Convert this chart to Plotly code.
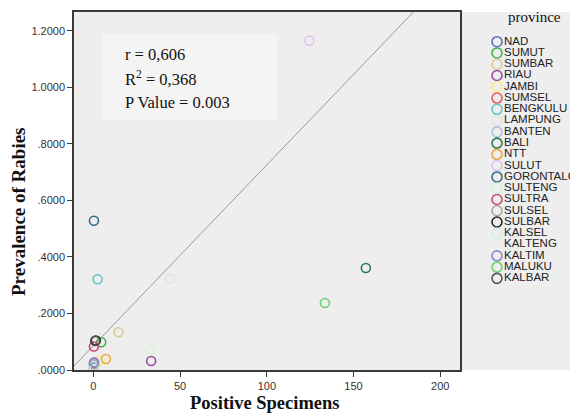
import plotly.graph_objects as go

# ---------------- data ----------------
provinces = ["NAD", "SUMUT", "SUMBAR", "RIAU", "JAMBI", "SUMSEL", "BENGKULU",
             "LAMPUNG", "BANTEN", "BALI", "NTT", "SULUT", "GORONTALO", "SULTENG",
             "SULTRA", "SULSEL", "SULBAR", "KALSEL", "KALTENG", "KALTIM",
             "MALUKU", "KALBAR"]
positive_specimens = [0.3, 4.5, 14.5, 33.3, 3.7, 0.3, 2.4,
                      44.3, 0.5, 157.1, 7.2, 124.5, 0.3, 32.2,
                      0.3, 0.2, 1.4, 0.5, None, 0.4,
                      133.5, 1.0]
prevalence = [0.006, 0.098, 0.134, 0.032, 0.034, 0.024, 0.321,
              0.322, 0.012, 0.361, 0.039, 1.165, 0.528, 0.071,
              0.083, 0.020, 0.104, 0.003, None, 0.027,
              0.237, 0.103]
colors = ["#5B6FC4", "#3CB54A", "#D9CB98", "#9B4A9F", "#F7EE8A", "#E8585A", "#5CC8C8",
          "#E4E4E4", "#A8C4DE", "#2E7B50", "#F0A640", "#E0C4F0", "#336B8A", "#D6F3D6",
          "#D0456E", "#A8A8A8", "#222222", "#CDEEEE", "rgba(0,0,0,0)", "#8A86C8",
          "#6CD46C", "#555555"]

fit_intercept = 0.086
fit_slope = 0.0064
x_range = [-11.2, 211.4]
y_range = [0.0, 1.267]

y_tickvals = [0.0, 0.2, 0.4, 0.6, 0.8, 1.0, 1.2]
y_ticktext = [".0000", ".2000", ".4000", ".6000", ".8000", "1.0000", "1.2000"]
x_tickvals = [0, 50, 100, 150, 200]

stats_lines = ["r = 0,606", "R<sup>2</sup> = 0,368", "P Value = 0.003"]

# ---------------- figure ----------------
W, H = 570, 414
ml, mt, mb = 74, 12, 44
pw = W - ml
ph = H - mt - mb

def px2paper_x(px):
    return (px - ml) / pw

def py2paper_y(py):
    return 1 - (py - mt) / ph

fig = go.Figure()

# regression line
fit_x = [x_range[0] - 5, x_range[1] + 5]
fit_y = [fit_intercept + fit_slope * v for v in fit_x]
fig.add_trace(go.Scatter(x=fit_x, y=fit_y, mode="lines",
                         line=dict(color="#9A9A9A", width=1),
                         showlegend=False, hoverinfo="skip"))

# points
fig.add_trace(go.Scatter(x=positive_specimens, y=prevalence, mode="markers",
                         marker=dict(symbol="circle-open", size=9, color=colors,
                                     line=dict(width=1.6)),
                         text=provinces, showlegend=False))

# manual legend on a secondary axis pair (x2 measured in page pixels 460..570)
idx = list(range(len(provinces)))
fig.add_trace(go.Scatter(x=[497] * len(provinces), y=idx, mode="markers",
                         marker=dict(symbol="circle-open", size=10, color=colors,
                                     line=dict(width=1.6)),
                         xaxis="x2", yaxis="y2", showlegend=False, hoverinfo="skip",
                         cliponaxis=False))
fig.add_trace(go.Scatter(x=[504] * len(provinces), y=idx, mode="text",
                         text=provinces, textposition="middle right",
                         textfont=dict(family="Liberation Sans, Arial", size=11.5, color="#222222"),
                         xaxis="x2", yaxis="y2", showlegend=False, hoverinfo="skip",
                         cliponaxis=False))

# stats box
fig.add_shape(type="rect", xref="paper", yref="paper",
              x0=px2paper_x(102), x1=px2paper_x(277),
              y0=py2paper_y(120), y1=py2paper_y(34),
              fillcolor="#F4F4F4", line=dict(width=0), layer="below")
for i, t in enumerate(stats_lines):
    fig.add_annotation(text=t, xref="paper", yref="paper",
                       x=px2paper_x(123), y=py2paper_y(55 + 23.5 * i),
                       xanchor="left", yanchor="middle", showarrow=False,
                       font=dict(family="Liberation Serif, Times New Roman", size=16.5, color="#111111"))

# titles
fig.add_annotation(text="<b>Prevalence of Rabies</b>", xref="paper", yref="paper",
                   x=px2paper_x(18), y=py2paper_y(212), textangle=-90,
                   xanchor="center", yanchor="middle", showarrow=False,
                   font=dict(family="Liberation Serif, Times New Roman", size=19, color="#111111"))
fig.add_annotation(text="<b>Positive Specimens</b>", xref="paper", yref="paper",
                   x=px2paper_x(265), y=py2paper_y(403),
                   xanchor="center", yanchor="middle", showarrow=False,
                   font=dict(family="Liberation Serif, Times New Roman", size=18.5, color="#111111"))
fig.add_annotation(text="province", xref="paper", yref="paper",
                   x=px2paper_x(534), y=py2paper_y(17),
                   xanchor="center", yanchor="middle", showarrow=False,
                   font=dict(family="Liberation Serif, Times New Roman", size=15, color="#111111"))

# legend axis range: item i centred at 41.7 + 11.27*i px
y_top = (mt - 41.7) / 11.27
y_bot = (mt + ph - 41.7) / 11.27

axis_font = dict(family="Liberation Sans, Arial", size=11, color="#333333")
fig.update_layout(
    width=W, height=H,
    margin=dict(l=ml, r=0, t=mt, b=mb),
    paper_bgcolor="white",
    plot_bgcolor="#EEEEEE",
    xaxis=dict(domain=[0, px2paper_x(460)], range=x_range, tickvals=x_tickvals,
               showgrid=False, zeroline=False, showline=True, linecolor="#3A3A3A",
               linewidth=1.5, mirror=True, ticks="outside", ticklen=5,
               tickcolor="#3A3A3A", tickfont=axis_font),
    yaxis=dict(range=y_range, tickvals=y_tickvals, ticktext=y_ticktext,
               showgrid=False, zeroline=False, showline=True, linecolor="#3A3A3A",
               linewidth=1.5, mirror=True, ticks="outside", ticklen=5,
               tickcolor="#3A3A3A", tickfont=axis_font),
    xaxis2=dict(domain=[px2paper_x(460), 1], range=[460, 570], visible=False,
                anchor="y2"),
    yaxis2=dict(domain=[0, 1], range=[y_bot, y_top], visible=False, anchor="x2"),
    showlegend=False,
)

fig.write_html("out.html")
